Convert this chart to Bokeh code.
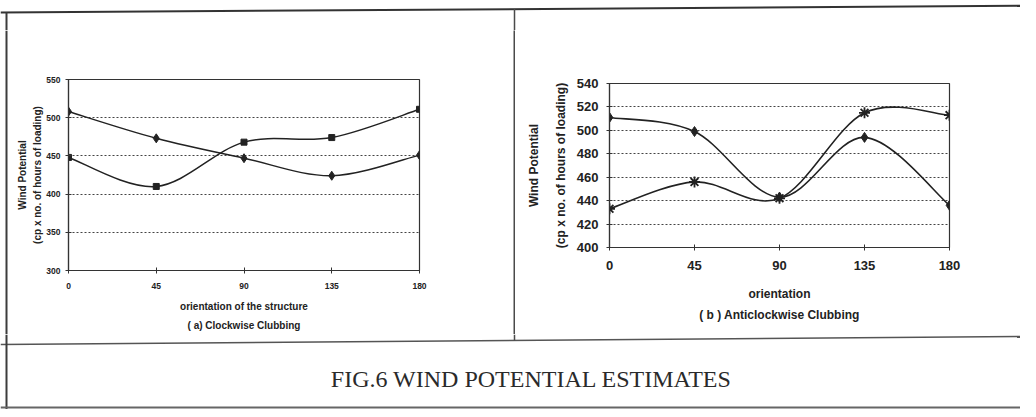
from bokeh.plotting import figure
from bokeh.layouts import column, row
from bokeh.models import Range1d, FixedTicker, ColumnDataSource
from bokeh.core.properties import value
from bokeh.embed import file_html
from bokeh.resources import INLINE

# ---------------- data ----------------
orient = [0, 45, 90, 135, 180]
# (a) Clockwise clubbing
cw_diamond = [508, 473, 447, 424, 451]
cw_square = [448, 410, 468, 474, 511]
cw_yticks = [300, 350, 400, 450, 500, 550]
# (b) Anticlockwise clubbing
acw_diamond = [511, 499, 443, 494, 436]
acw_star = [433, 456, 442, 515, 513]
acw_yticks = [400, 420, 440, 460, 480, 500, 520, 540]

cw_xlabel = "orientation of the structure\n( a) Clockwise Clubbing"
acw_xlabel = "orientation\n( b ) Anticlockwise Clubbing"
ylabel = "Wind Potential\n(cp x no. of hours of loading)"
caption = "FIG.6 WIND POTENTIAL  ESTIMATES"

INK = "#222222"
SMALL = "'Liberation Sans', Arial, sans-serif"
ARIAL = "'Liberation Sans', Arial, sans-serif"

W = 1020          # total layout width
TOP_H = 30        # strip holding the top rule
ROW_H = 304       # the two chart panels
CAP_H = 75        # caption panel
DIV_X = 514       # vertical divider position


def smooth(xs, ys):
    """Excel-like smoothed line: cubic Bezier segments through the points."""
    n = len(xs)
    d = dict(x0=[], y0=[], x1=[], y1=[], cx0=[], cy0=[], cx1=[], cy1=[])
    for i in range(n - 1):
        a = i - 1 if i > 0 else i
        b = i + 2 if i + 2 < n else i + 1
        d["x0"].append(xs[i]); d["y0"].append(ys[i])
        d["x1"].append(xs[i + 1]); d["y1"].append(ys[i + 1])
        d["cx0"].append(xs[i] + (xs[i + 1] - xs[a]) / 6.0)
        d["cy0"].append(ys[i] + (ys[i + 1] - ys[a]) / 6.0)
        d["cx1"].append(xs[i + 1] - (xs[b] - xs[i]) / 6.0)
        d["cy1"].append(ys[i + 1] - (ys[b] - ys[i]) / 6.0)
    return ColumnDataSource(d)


def blank(w, h):
    f = figure(width=w, height=h, min_border=0, toolbar_location=None,
               output_backend="svg", x_axis_location=None, y_axis_location=None,
               x_range=Range1d(0, w), y_range=Range1d(0, h),
               outline_line_color=None, frame_align=False)
    f.xgrid.visible = False
    f.ygrid.visible = False
    return f


def bar(w, h, color="#3c3c3c"):
    f = figure(width=w, height=h, min_border=0, toolbar_location=None,
               output_backend="svg", x_axis_location=None, y_axis_location=None,
               background_fill_color=color, border_fill_color=color,
               outline_line_color=None, frame_align=False)
    f.xgrid.visible = False
    f.ygrid.visible = False
    return f


def style(p, xticks, yticks, tick_font, tick_size, lab_font, lab_size):
    p.xaxis.ticker = FixedTicker(ticks=xticks)
    p.yaxis.ticker = FixedTicker(ticks=yticks)
    p.xgrid.visible = False
    p.ygrid.grid_line_color = "#444444"
    p.ygrid.grid_line_dash = "2 2"
    p.ygrid.grid_line_width = 1
    for ax in (p.xaxis, p.yaxis):
        ax.axis_line_color = "#333333"
        ax.axis_line_width = 1.2
        ax.major_tick_line_color = "#333333"
        ax.major_tick_in = 3
        ax.major_tick_out = 3
        ax.minor_tick_line_color = None
        ax.major_label_text_font = tick_font
        ax.major_label_text_font_size = tick_size
        ax.major_label_text_font_style = "bold"
        ax.major_label_text_color = INK
        ax.axis_label_text_font = lab_font
        ax.axis_label_text_font_size = lab_size
        ax.axis_label_text_font_style = "bold"
        ax.axis_label_text_color = INK
        ax.axis_label_text_align = "center"


# ---------------- top rule ----------------
top = blank(W, TOP_H)
top.segment(x0=[0], y0=[18], x1=[W], y1=[24.7], line_color="#333333", line_width=2)
top.segment(x0=[6], y0=[0], x1=[6], y1=[18], line_color="#3c3c3c", line_width=2)
top.segment(x0=[DIV_X], y0=[0], x1=[DIV_X], y1=[21.5], line_color="#4a4a4a", line_width=1.5)

# ---------------- left border strip ----------------
strip = blank(8, ROW_H)
strip.segment(x0=[6], y0=[0], x1=[6], y1=[ROW_H], line_color="#3c3c3c", line_width=2)

# ---------------- (a) clockwise ----------------
p1 = figure(width=505, height=ROW_H, x_range=Range1d(0, 180), y_range=Range1d(300, 550),
            min_border_left=60, min_border_right=94, min_border_top=49, min_border_bottom=64,
            toolbar_location=None, output_backend="svg", frame_align=False,
            outline_line_color="#333333", outline_line_width=1.2)
style(p1, orient, cw_yticks, SMALL, "8.5px", SMALL, "10px")
p1.xaxis.axis_label = cw_xlabel
p1.yaxis.axis_label = ylabel
p1.xaxis.major_label_standoff = 9
p1.yaxis.major_label_standoff = 5
p1.xaxis.axis_label_standoff = 9
p1.yaxis.axis_label_standoff = 0
p1.xaxis.axis_label_text_line_height = 1.75
p1.yaxis.axis_label_text_line_height = 1.4

p1.bezier(x0="x0", y0="y0", x1="x1", y1="y1", cx0="cx0", cy0="cy0", cx1="cx1", cy1="cy1",
          source=smooth(orient, cw_diamond), line_color=INK, line_width=1.5)
p1.bezier(x0="x0", y0="y0", x1="x1", y1="y1", cx0="cx0", cy0="cy0", cx1="cx1", cy1="cy1",
          source=smooth(orient, cw_square), line_color=INK, line_width=1.5)
p1.scatter(orient, cw_diamond, marker="diamond", size=9, fill_color=INK, line_color=INK)
p1.scatter(orient, cw_square, marker="square", size=6, fill_color=INK, line_color=INK)

# ---------------- (b) anticlockwise ----------------
p2 = figure(width=505, height=ROW_H, x_range=Range1d(0, 180), y_range=Range1d(400, 540),
            min_border_left=94, min_border_right=71, min_border_top=53, min_border_bottom=87,
            toolbar_location=None, output_backend="svg", frame_align=False,
            outline_line_color="#333333", outline_line_width=1.2)
style(p2, orient, acw_yticks, ARIAL, "13px", ARIAL, "12px")
p2.xaxis.axis_label = acw_xlabel
p2.yaxis.axis_label = ylabel
p2.xaxis.major_label_standoff = 10
p2.yaxis.major_label_standoff = 8
p2.xaxis.axis_label_standoff = 14
p2.yaxis.axis_label_standoff = 6
p2.xaxis.axis_label_text_line_height = 1.55
p2.yaxis.axis_label_text_line_height = 1.9

p2.bezier(x0="x0", y0="y0", x1="x1", y1="y1", cx0="cx0", cy0="cy0", cx1="cx1", cy1="cy1",
          source=smooth(orient, acw_diamond), line_color=INK, line_width=1.6)
p2.bezier(x0="x0", y0="y0", x1="x1", y1="y1", cx0="cx0", cy0="cy0", cx1="cx1", cy1="cy1",
          source=smooth(orient, acw_star), line_color=INK, line_width=1.6)
p2.scatter(orient, acw_diamond, marker="diamond", size=10, fill_color=INK, line_color=INK)
p2.scatter(orient, acw_star, marker="asterisk", size=11, line_color=INK, line_width=1.8)

# ---------------- caption panel ----------------
cap = blank(W, CAP_H)
cap.segment(x0=[0], y0=[65], x1=[W], y1=[73], line_color="#555555", line_width=1.6)
cap.segment(x0=[DIV_X], y0=[69], x1=[DIV_X], y1=[CAP_H], line_color="#4a4a4a", line_width=1.5)
cap.segment(x0=[6], y0=[0], x1=[6], y1=[CAP_H], line_color="#3c3c3c", line_width=2)
cap.segment(x0=[0], y0=[2], x1=[W], y1=[2], line_color="#666666", line_width=2)
cap.text(x=[534], y=[31], text=[caption], text_font=value("Liberation Serif"),
         text_font_size="24px", text_align="center", text_baseline="middle",
         text_color="#2a2a2a")

layout = column(
    top,
    row(strip, p1, bar(2, ROW_H, "#4a4a4a"), p2),
    cap,
)

open("out.html", "w").write(file_html(layout, INLINE))
